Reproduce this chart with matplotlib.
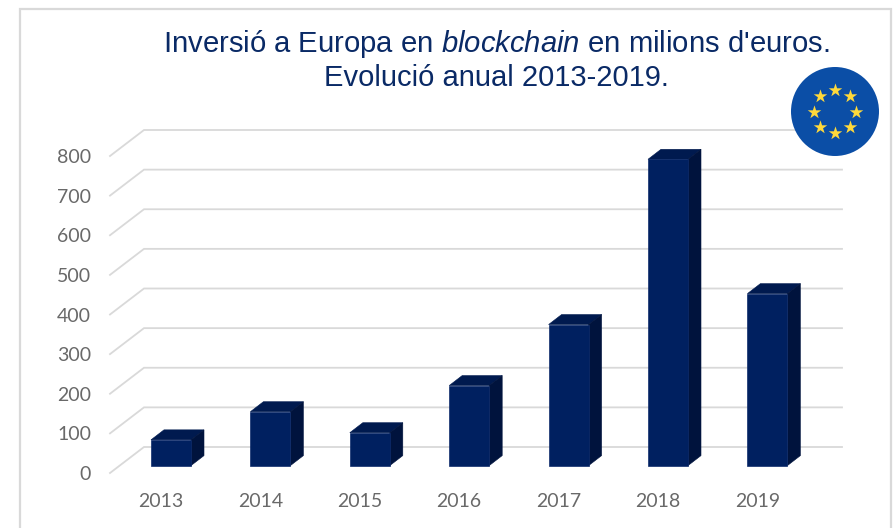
import numpy as np
import matplotlib
matplotlib.use("Agg")
import matplotlib.pyplot as plt
from matplotlib.patches import Polygon, Rectangle, Circle

years = ["2013", "2014", "2015", "2016", "2017", "2018", "2019"]
investment = [65, 136, 83, 202, 356, 773, 434]
y_ticks = [0, 100, 200, 300, 400, 500, 600, 700, 800]

W, H = 895, 528
plt.rcParams['mathtext.fontset'] = 'custom'
plt.rcParams['mathtext.it'] = 'Liberation Sans:italic'
plt.rcParams['mathtext.rm'] = 'Liberation Sans'

NAVY, SIDE, TOP = "#002060", "#00133D", "#001A4F"
GRID, TICK, TITLE = "#D9D9D9", "#696969", "#0A2A66"

fig = plt.figure(figsize=(W / 100, H / 100), dpi=100, facecolor="white")

def fx(px): return px / W
def fy(py): return 1 - py / H

# outer frame, running off the bottom of the image
fig.add_artist(Rectangle((fx(20), fy(540)), fx(891) - fx(20), fy(9) - fy(540),
                         transform=fig.transFigure, fc="white", ec=GRID, lw=1.6, zorder=-5))

# main axes: pixels 110..842 horizontally, 473..130 vertically
L, R, B, T = 110, 842, 473, 130
ax = fig.add_axes([fx(L), fy(B), fx(R) - fx(L), fy(T) - fy(B)])
ax.patch.set_alpha(0)
for s in ax.spines.values():
    s.set_visible(False)
PX_CAT = 99.4        # pixels per category
PX_VAL = 0.39625     # pixels per value unit
X0, Y0 = 171, 465.6  # first bar centre, bar base
ax.set_xlim((L - X0) / PX_CAT, (R - X0) / PX_CAT)
ax.set_ylim((Y0 - B) / PX_VAL, (Y0 - T) / PX_VAL)

xs = np.arange(len(years))
floor = (Y0 - B) / PX_VAL
grid_dx, grid_dy = 34 / PX_CAT, 26 / PX_VAL
xl = ax.get_xlim()

# gridlines: slanted wall part and back part
for v in y_ticks:
    yf = v + floor
    ax.plot([xl[0], xl[0] + grid_dx, xl[1]], [yf, yf + grid_dy, yf + grid_dy],
            color=GRID, lw=1.3, zorder=1, clip_on=False, solid_joinstyle="miter")

# bars with depth
bw = 40 / PX_CAT
dx, dy = 13 / PX_CAT, 10 / PX_VAL
ax.bar(xs, investment, width=bw, color=NAVY, edgecolor="#0F2C6C", lw=0.5, zorder=4)
for x, v in zip(xs, investment):
    l, r = x - bw / 2, x + bw / 2
    ax.add_patch(Polygon([(l, v), (l + dx, v + dy), (r + dx, v + dy), (r, v)],
                         fc=TOP, ec=TOP, lw=0.4, zorder=3))
    ax.add_patch(Polygon([(r, 0), (r + dx, dy), (r + dx, v + dy), (r, v)],
                         fc=SIDE, ec=SIDE, lw=0.4, zorder=3))

# ticks
ax.set_yticks([v + floor for v in y_ticks], [str(v) for v in y_ticks])
ax.set_xticks(xs - 10 / PX_CAT, years)
ax.tick_params(axis="y", length=0, pad=13.5, labelsize=14, labelcolor=TICK)
ax.tick_params(axis="x", length=0, pad=14.5, labelsize=14, labelcolor=TICK)
for t in ax.get_xticklabels() + ax.get_yticklabels():
    t.set_fontfamily("Lato")

# title
fig.text(fx(496.5), fy(44), r"Inversió a Europa en $\mathit{blockchain}$ en milions d'euros.",
         ha="center", va="center", fontsize=21.05, color=TITLE, family="Liberation Sans")
fig.text(fx(496.5), fy(78), "Evolució anual 2013-2019.",
         ha="center", va="center", fontsize=21, color=TITLE, family="Liberation Sans")

# EU flag badge
bx = fig.add_axes([fx(791), fy(156), fx(879) - fx(791), fy(67) - fy(156)])
bx.set_xlim(-1, 1); bx.set_ylim(-1, 1); bx.axis("off")
bx.add_patch(Circle((0, 0), 1, fc="#0B4EA6", ec="none"))
star_angles = np.deg2rad(np.arange(0, 360, 45))
bx.scatter(0.48 * np.cos(star_angles), 0.48 * np.sin(star_angles),
           marker="*", s=105, c="#FFD93B", linewidths=0, zorder=3)

fig.savefig("out.png", dpi=100)
